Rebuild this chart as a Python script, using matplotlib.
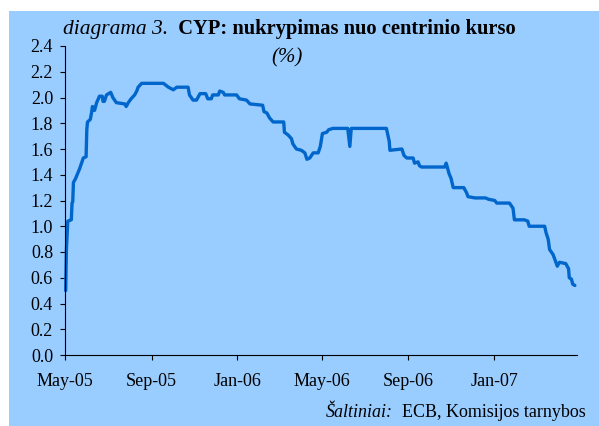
import numpy as np
import matplotlib
matplotlib.use("Agg")
import matplotlib.pyplot as plt
import matplotlib.dates as mdates
from matplotlib.patches import Rectangle

# ---- data ----
dates = [
    "2005-05-02", "2005-05-03", "2005-05-05", "2005-05-10", "2005-05-11", "2005-05-12",
    "2005-05-13", "2005-05-16", "2005-05-19", "2005-05-22", "2005-05-27", "2005-05-31",
    "2005-06-01", "2005-06-02", "2005-06-06", "2005-06-08", "2005-06-09", "2005-06-12",
    "2005-06-15", "2005-06-19", "2005-06-23", "2005-06-24", "2005-06-26", "2005-06-29",
    "2005-07-05", "2005-07-08", "2005-07-13", "2005-07-25", "2005-07-27", "2005-07-30",
    "2005-08-03", "2005-08-08", "2005-08-11", "2005-08-13", "2005-08-18", "2005-09-18",
    "2005-09-25", "2005-10-02", "2005-10-07", "2005-10-23", "2005-10-25", "2005-10-30",
    "2005-11-04", "2005-11-09", "2005-11-17", "2005-11-20", "2005-11-25", "2005-11-27",
    "2005-12-05", "2005-12-07", "2005-12-12", "2005-12-14", "2005-12-31", "2006-01-04",
    "2006-01-14", "2006-01-19", "2006-02-06", "2006-02-08", "2006-02-12", "2006-02-16",
    "2006-02-21", "2006-03-08", "2006-03-09", "2006-03-14", "2006-03-19", "2006-03-21",
    "2006-03-26", "2006-04-02", "2006-04-07", "2006-04-10", "2006-04-14", "2006-04-19",
    "2006-04-26", "2006-04-29", "2006-05-02", "2006-05-08", "2006-05-11", "2006-05-17",
    "2006-06-07", "2006-06-10", "2006-06-12", "2006-08-01", "2006-08-05", "2006-08-06",
    "2006-08-23", "2006-08-26", "2006-08-30", "2006-09-08", "2006-09-10", "2006-09-15",
    "2006-09-17", "2006-09-20", "2006-10-23", "2006-10-25", "2006-10-29", "2006-11-01",
    "2006-11-04", "2006-11-19", "2006-11-23", "2006-11-25", "2006-12-05", "2006-12-20",
    "2006-12-24", "2007-01-02", "2007-01-05", "2007-01-23", "2007-01-28", "2007-01-30",
    "2007-02-13", "2007-02-18", "2007-02-20", "2007-03-14", "2007-03-16", "2007-03-19",
    "2007-03-21", "2007-03-26", "2007-03-30", "2007-04-01", "2007-04-04", "2007-04-13",
    "2007-04-17", "2007-04-18", "2007-04-21", "2007-04-23", "2007-04-26",
]
values = [
    0.50, 0.82, 1.04, 1.05, 1.18, 1.19,
    1.34, 1.37, 1.41, 1.45, 1.53, 1.54,
    1.75, 1.81, 1.83, 1.89, 1.93, 1.90,
    1.96, 2.01, 2.01, 1.97, 1.97, 2.02,
    2.04, 2.00, 1.96, 1.95, 1.93, 1.96,
    1.99, 2.02, 2.05, 2.08, 2.11, 2.11,
    2.08, 2.06, 2.08, 2.08, 2.02, 1.98,
    1.98, 2.03, 2.03, 1.99, 1.99, 2.02,
    2.02, 2.05, 2.04, 2.02, 2.02, 1.99,
    1.98, 1.95, 1.94, 1.89, 1.88, 1.84,
    1.81, 1.81, 1.73, 1.71, 1.68, 1.64,
    1.60, 1.59, 1.57, 1.52, 1.53, 1.57,
    1.57, 1.62, 1.72, 1.73, 1.75, 1.76,
    1.76, 1.62, 1.76, 1.76, 1.66, 1.59,
    1.60, 1.55, 1.53, 1.53, 1.49, 1.50,
    1.47, 1.46, 1.46, 1.49, 1.41, 1.37,
    1.30, 1.30, 1.26, 1.23, 1.22, 1.22,
    1.21, 1.20, 1.18, 1.18, 1.14, 1.05,
    1.05, 1.04, 1.00, 1.00, 0.95, 0.90,
    0.82, 0.78, 0.72, 0.69, 0.72, 0.71,
    0.67, 0.60, 0.59, 0.55, 0.54,
]
y_ticks = [0.0, 0.2, 0.4, 0.6, 0.8, 1.0, 1.2, 1.4, 1.6, 1.8, 2.0, 2.2, 2.4]
x_tick_dates = ["2005-05-01", "2005-09-01", "2006-01-01", "2006-05-01",
                "2006-09-01", "2007-01-01"]
x_range = ["2005-05-01", "2007-04-29"]

title_italic = "diagrama 3."
title_bold = "  CYP: nukrypimas nuo centrinio kurso"
subtitle = "(%)"
source_italic = "Šaltiniai:"
source_rest = "  ECB, Komisijos tarnybos"

# ---- style ----
plt.rcParams["font.family"] = ["Liberation Serif", "DejaVu Serif"]
W, H = 599, 426
BG = "#99CCFF"
LINE = "#0066CC"

fig = plt.figure(figsize=(W / 100, H / 100), dpi=100)
fig.patch.set_facecolor("white")
fig.patches.append(Rectangle((9 / W, 0), (W - 9) / W, (H - 11) / H,
                             transform=fig.transFigure, facecolor=BG,
                             edgecolor="none", zorder=-10))

ax = fig.add_axes([65 / W, 1 - 355 / H, (577 - 65) / W, (355 - 46) / H])
ax.set_facecolor("none")

d = np.array(dates, dtype="datetime64[D]")
ax.plot(d, values, color=LINE, lw=2.4, solid_joinstyle="round",
        solid_capstyle="round", clip_on=False)

ax.set_xlim(np.datetime64(x_range[0]), np.datetime64(x_range[1]))
ax.set_ylim(0, 2.4)
ax.set_yticks(y_ticks)
ax.yaxis.set_major_formatter(matplotlib.ticker.FormatStrFormatter("%.1f"))
ax.set_xticks(np.array(x_tick_dates, dtype="datetime64[D]"))
ax.xaxis.set_major_formatter(mdates.DateFormatter("%b-%y"))

for s in ("top", "right"):
    ax.spines[s].set_visible(False)
for s in ("left", "bottom"):
    ax.spines[s].set_linewidth(0.8)
    ax.spines[s].set_color("black")

ax.tick_params(axis="both", direction="out", length=3.6, width=0.8,
               labelsize=13, colors="black")
ax.tick_params(axis="y", pad=5)
ax.tick_params(axis="x", pad=9)

# ---- title ----
t1 = fig.text(63 / W, (H - 34) / H, title_italic, fontsize=15.5,
              style="italic", ha="left", va="baseline")
ax.annotate(title_bold, xy=(1, (H - 34) / H), xycoords=(t1, "figure fraction"),
            fontsize=14.8, fontweight="bold", ha="left", va="baseline",
            annotation_clip=False)
fig.text(287 / W, (H - 62) / H, subtitle, fontsize=15, style="italic",
         ha="center", va="baseline")

# ---- source ----
s2 = fig.text(586 / W, (H - 417) / H, source_rest, fontsize=13,
              ha="right", va="baseline")
ax.annotate(source_italic, xy=(0, (H - 417) / H), xycoords=(s2, "figure fraction"),
            fontsize=13, style="italic", ha="right", va="baseline",
            annotation_clip=False)

fig.savefig("out.png", dpi=100, facecolor="white")
